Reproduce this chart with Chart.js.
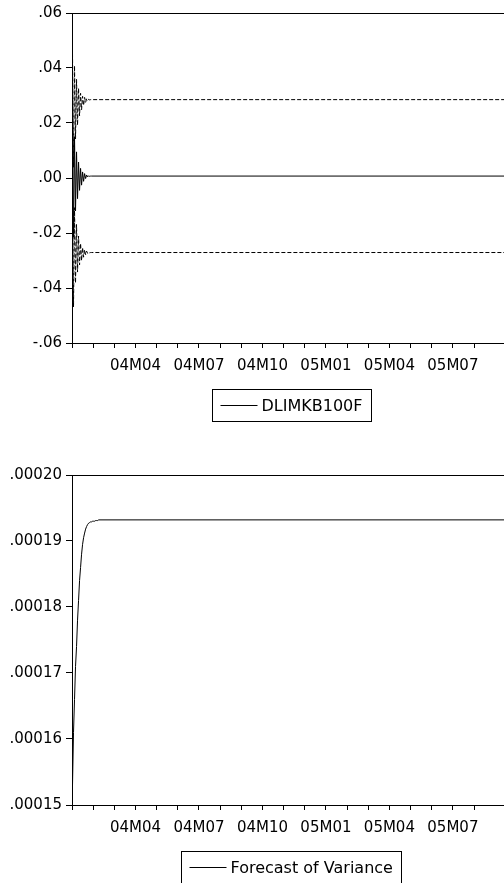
<!DOCTYPE html>
<html>
<head>
<meta charset="utf-8">
<script src="https://cdn.jsdelivr.net/npm/chart.js@4"></script>
<style>
  html, body { margin: 0; padding: 0; background: #fff; overflow: hidden; width: 504px; height: 883px; }
  canvas { display: block; }
</style>
</head>
<body>
<canvas id="forecast" width="519" height="445"></canvas>
<canvas id="variance" width="519" height="438"></canvas>
<script>
// forecast sample starts 2004M01, one value per trading day for the first days,
// after that the forecast stays flat until the end of the sample
const DAYS_PER_MONTH = 21;
const SAMPLE_END = 20.7; // months after 2004M01
const TICK_LABELS = ['04M04', '04M07', '04M10', '05M01', '05M04', '05M07'];

const forecastMean = [0.0207, -0.0215, 0.0150, -0.0120, 0.0095, -0.0075, 0.0058, -0.0045, 0.0035, -0.0026,
  0.0022, -0.0012, 0.0016, -0.0002, 0.0011, 0.0004, 0.0008, 0.0006, 0.0007, 0.0007];
const upperBand = [0.0454, 0.0039, 0.0408, 0.0142, 0.0359, 0.0192, 0.0327, 0.0226, 0.0308, 0.0248,
  0.0297, 0.0264, 0.0293, 0.0275, 0.0288, 0.0282, 0.0286, 0.0284, 0.0285, 0.0285];
const lowerBand = [-0.0040, -0.0469, -0.0108, -0.0382, -0.0169, -0.0342, -0.0211, -0.0316, -0.0238, -0.0300,
  -0.0253, -0.0288, -0.0261, -0.0279, -0.0266, -0.0274, -0.0270, -0.0272, -0.0271, -0.0271];
const forecastVar = [0.000153, 0.000161, 0.000166, 0.000171, 0.000174, 0.000178, 0.000181, 0.000184, 0.000186, 0.000188,
  0.0001895, 0.0001905, 0.0001912, 0.0001918, 0.0001922, 0.0001925, 0.0001927, 0.0001928, 0.0001929, 0.0001929,
  0.000193, 0.000193, 0.000193, 0.0001931, 0.0001931, 0.0001931, 0.0001932];

const FONT = 'DejaVu Sans';

function toPoints(values) {
  const pts = values.map((v, i) => ({ x: (i + 0.5) / DAYS_PER_MONTH, y: v }));
  pts.push({ x: SAMPLE_END, y: values[values.length - 1] });
  return pts;
}

function monthLabel(value) {
  if (!Number.isInteger(value) || value <= 0 || value % 3 !== 0) return '';
  return TICK_LABELS[value / 3 - 1] || '';
}

// top edge of the frame (the right edge is off the page)
const frame = {
  id: 'frame',
  afterDraw(chart) {
    const { ctx, chartArea } = chart;
    ctx.save();
    ctx.strokeStyle = '#000';
    ctx.lineWidth = 1;
    ctx.beginPath();
    ctx.moveTo(chartArea.left, Math.round(chartArea.top) + 0.5);
    ctx.lineTo(chartArea.right, Math.round(chartArea.top) + 0.5);
    ctx.lineTo(chartArea.right, chartArea.bottom);
    ctx.stroke();
    ctx.restore();
  }
};

// boxed legend, eviews style
const boxLegend = {
  id: 'boxLegend',
  afterDraw(chart, args, opts) {
    const { ctx, chartArea } = chart;
    ctx.save();
    ctx.font = '16px "' + FONT + '"';
    const textW = ctx.measureText(opts.text).width;
    const padL = 8, lineLen = 37, gap = 4, padR = 9, h = 32;
    const w = Math.round(padL + lineLen + gap + textW + padR);
    const x = Math.round((chartArea.left + chartArea.right) / 2 - w / 2) + 0.5;
    const y = Math.round(chartArea.bottom) + 46 + 0.5;
    ctx.strokeStyle = '#000';
    ctx.lineWidth = 1;
    ctx.strokeRect(x, y, w, h);
    ctx.beginPath();
    ctx.moveTo(x + padL, y + h / 2);
    ctx.lineTo(x + padL + lineLen, y + h / 2);
    ctx.stroke();
    ctx.fillStyle = '#000';
    ctx.textBaseline = 'middle';
    ctx.fillText(opts.text, x + padL + lineLen + gap, y + h / 2 + 1);
    ctx.restore();
  }
};

function axes(yMin, yMax, yStep, digits) {
  return {
    x: {
      type: 'linear', min: 0, max: SAMPLE_END,
      grid: { drawOnChartArea: false, drawTicks: true, tickLength: 5, color: '#000' },
      border: { color: '#000', width: 1 },
      ticks: { stepSize: 1, autoSkip: false, maxRotation: 0, color: '#000', padding: 9,
        font: { family: FONT, size: 15 }, callback: monthLabel },
      afterFit: s => { s.height = 30; }
    },
    y: {
      min: yMin, max: yMax,
      grid: { drawOnChartArea: false, drawTicks: true, tickLength: 6, color: '#000' },
      border: { color: '#000', width: 1 },
      ticks: { stepSize: yStep, color: '#000', padding: 4, font: { family: FONT, size: 15 },
        callback: v => v.toFixed(digits).replace('0.', '.') },
      afterFit: s => { s.width = 72; }
    }
  };
}

const line = { borderColor: '#000', borderWidth: 1, pointRadius: 0, tension: 0, fill: false };

new Chart(document.getElementById('forecast'), {
  type: 'line',
  data: {
    datasets: [
      { ...line, label: 'DLIMKB100F', data: toPoints(forecastMean) },
      { ...line, label: 'upper', data: toPoints(upperBand), borderDash: [4, 2] },
      { ...line, label: 'lower', data: toPoints(lowerBand), borderDash: [4, 2] }
    ]
  },
  options: {
    responsive: false, animation: false,
    layout: { padding: { top: 13, right: 0, bottom: 72, left: 0 } },
    scales: axes(-0.06, 0.06, 0.02, 2),
    plugins: { legend: { display: false }, tooltip: { enabled: false }, boxLegend: { text: 'DLIMKB100F' } }
  },
  plugins: [frame, boxLegend]
});

new Chart(document.getElementById('variance'), {
  type: 'line',
  data: {
    datasets: [
      { ...line, label: 'Forecast of Variance', data: toPoints(forecastVar) }
    ]
  },
  options: {
    responsive: false, animation: false,
    layout: { padding: { top: 30, right: 0, bottom: 48, left: 0 } },
    scales: axes(0.00015, 0.0002, 0.00001, 5),
    plugins: { legend: { display: false }, tooltip: { enabled: false }, boxLegend: { text: 'Forecast of Variance' } }
  },
  plugins: [frame, boxLegend]
});
</script>
</body>
</html>
